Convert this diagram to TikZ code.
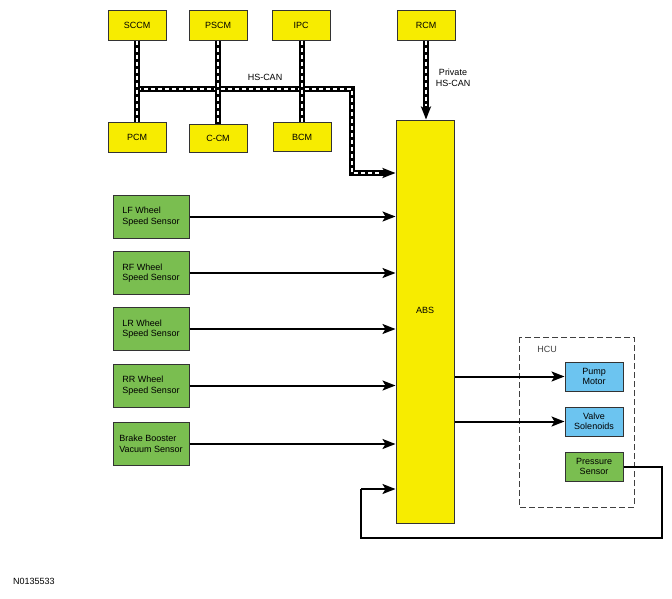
\documentclass[tikz,border=0pt]{standalone}
\usepackage{fontspec}
\setmainfont{Liberation Sans}
\usetikzlibrary{arrows.meta}

\definecolor{absyellow}{RGB}{247,236,0}
\definecolor{sensgreen}{RGB}{122,190,80}
\definecolor{hcublue}{RGB}{108,196,240}

\tikzset{
  box/.style={draw=black!80, line width=1pt, minimum width=58pt, minimum height=30pt,
    inner sep=2pt, font=\fontsize{9}{10.5}\selectfont, align=center},
  module/.style={box, fill=absyellow},
  sensor/.style={box, fill=sensgreen, minimum width=76pt, minimum height=43pt, align=left},
  actuator/.style={box, fill=hcublue, minimum height=29pt},
  tip/.style={-{Stealth[length=13pt,width=10pt,inset=3pt]}},
  sig/.style={line width=2pt, tip},
  canbus/.style={line width=6.2pt, draw=black,
    postaction={draw=white, line width=2pt, dash pattern=on 4pt off 3pt}},
  canarrow/.style={line width=6.2pt, draw=black, tip,
    postaction={draw=white, arrows=-, line width=2pt, dash pattern=on 4pt off 3pt, shorten >=14pt}},
  lbl/.style={font=\fontsize{9}{10.5}\selectfont, align=center, inner sep=0pt}
}

\begin{document}
\begin{tikzpicture}[x=1pt,y=-1pt]
  \useasboundingbox (0,0) rectangle (672,598);

  % HS-CAN modules
  \node[module] (sccm) at (137,25) {SCCM};
  \node[module] (pscm) at (218,25) {PSCM};
  \node[module] (ipc) at (301,25) {IPC};
  \node[module] (rcm) at (426,25) {RCM};
  \node[module] (pcm) at (137,137) {PCM};
  \node[module, minimum height=28pt] (ccm) at (218,138) {C-CM};
  \node[module, minimum height=29pt] (bcm) at (302,137) {BCM};

  % ABS module
  \node[module, minimum height=403pt] (abs) at (425,321.5) {};
  \node[lbl] (abslbl) at (425,310) {ABS};

  % sensors
  \foreach \nm/\yy/\txt in {lf/216.5/{LF Wheel\\Speed Sensor},
      rf/273/{RF Wheel\\Speed Sensor},
      lr/329/{LR Wheel\\Speed Sensor},
      rr/385.5/{RR Wheel\\Speed Sensor},
      bbvs/444/{Brake Booster\\Vacuum Sensor}} {
    \node[sensor] (\nm) at (151,\yy) {\txt};
    \draw[sig] (\nm.east) -- (\nm.east -| abs.west);
  }

  % HCU
  \draw[black!75, line width=1pt, dash pattern=on 6pt off 3pt] (519,337) rectangle (634,507);
  \node[lbl, black!75] (hcu) at (547,349) {HCU};
  \node[actuator] (pump) at (594,376.5) {Pump\\Motor};
  \node[actuator] (valve) at (594,421.5) {Valve\\Solenoids};
  \node[box, fill=sensgreen, minimum height=29pt] (press) at (594,466.5) {Pressure\\Sensor};

  \draw[sig] (abs.east |- pump.west) -- (pump.west);
  \draw[sig] (abs.east |- valve.west) -- (valve.west);

  % pressure feedback
  \coordinate (fbR) at (662,538);
  \coordinate (fbL) at (361,489);
  \draw[line width=2pt] (press.east) -| (fbR) -| (fbL);
  \draw[sig] (fbL) -- (fbL -| abs.west);

  % HS-CAN bus
  \coordinate (busL) at (137,89);
  \coordinate (busC) at (352,89);
  \coordinate (busD) at (352,173);
  \draw[canarrow] (busL) -- (busC) -- (busD) -- (busD -| abs.west);
  \draw[canbus] (sccm.south) -- (pcm.north);
  \draw[canbus] (pscm.south) -- (ccm.north);
  \draw[canbus] (ipc.south -| bcm.north) -- (bcm.north);
  \node[lbl] (hscan) at (265,77) {HS-CAN};

  % private HS-CAN
  \draw[canarrow] (rcm.south) -- (rcm.south |- abs.north);
  \node[lbl] (priv) at (453,78) {Private\\HS-CAN};

  \node[lbl, anchor=west] (fig) at (13,581) {N0135533};
\end{tikzpicture}
\end{document}
